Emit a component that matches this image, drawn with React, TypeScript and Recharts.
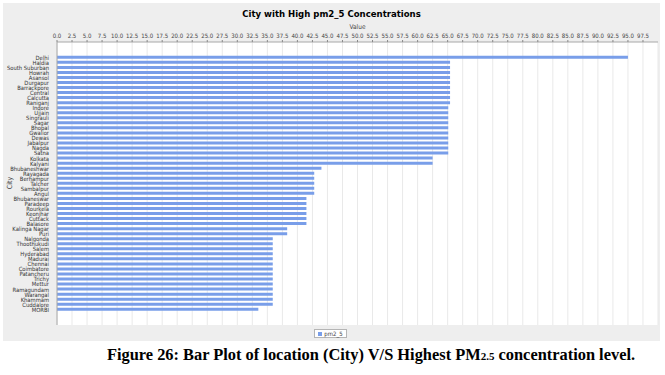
import { BarChart, Bar, XAxis, YAxis, CartesianGrid, Legend } from "recharts";

const cities = [
  "Delhi", "Haldia", "South Suburban", "Howrah", "Asansol", "Durgapur", "Barrackpore",
  "Central", "Calcutta", "Raniganj", "Indore", "Ujjain", "Singrauli", "Sagar", "Bhopal",
  "Gwalior", "Dewas", "Jabalpur", "Nagda", "Satna", "Kolkata", "Kalyani", "Bhubaneshwar",
  "Rayagada", "Berhampur", "Talcher", "Sambalpur", "Angul", "Bhubaneswar", "Paradeep",
  "Rourkela", "Keonjhar", "Cuttack", "Balasore", "Kalinga Nagar", "Puri", "Nalgonda",
  "Thoothukudi", "Salem", "Hyderabad", "Madurai", "Chennai", "Coimbatore", "Patancheru",
  "Trichy", "Mettur", "Ramagundam", "Warangal", "Khammam", "Cuddalore", "MORBI",
];

const pm25 = [
  95.0,
  65.4, 65.4, 65.4, 65.4, 65.4, 65.4, 65.4, 65.4, 65.4,
  65.1, 65.1, 65.1, 65.1, 65.1, 65.1, 65.1, 65.1, 65.1, 65.1,
  62.5, 62.5,
  44.0,
  42.8, 42.8, 42.8, 42.8, 42.8,
  41.5, 41.5, 41.5, 41.5, 41.5, 41.5,
  38.3, 38.3,
  35.9, 35.9, 35.9, 35.9, 35.9, 35.9, 35.9, 35.9, 35.9, 35.9, 35.9, 35.9, 35.9, 35.9,
  33.5,
];

const valueTicks = [
  0, 2.5, 5, 7.5, 10, 12.5, 15, 17.5, 20, 22.5, 25, 27.5, 30, 32.5, 35, 37.5, 40, 42.5,
  45, 47.5, 50, 52.5, 55, 57.5, 60, 62.5, 65, 67.5, 70, 72.5, 75, 77.5, 80, 82.5, 85,
  87.5, 90, 92.5, 95, 97.5,
];

const data = cities.map((city, i) => ({ city, pm2_5: pm25[i] }));

const BAR = "#799ee9";
const FRAME = "#a8a8a8";
const SMALL = "'DejaVu Sans Condensed', 'Liberation Sans', sans-serif";

// plain svg text, so recharts doesn't wrap long names like "South Suburban"
function CityTick(props: any) {
  const { x, y, payload } = props;
  return (
    <text x={x} y={y} dy={2.2} textAnchor="end" fontSize={5.8} fontFamily={SMALL} fill="#333">
      {payload.value}
    </text>
  );
}

function LegendBox() {
  return (
    <div style={{ display: "flex", justifyContent: "center", paddingTop: 4 }}>
      <div
        style={{
          display: "flex",
          alignItems: "center",
          gap: 2,
          border: "1px solid #b5b5b5",
          background: "#ffffff",
          padding: "0 3px",
          height: 7,
          fontFamily: SMALL,
          fontSize: 6,
          lineHeight: "7px",
          color: "#444",
        }}
      >
        <span style={{ width: 4, height: 4, background: BAR, display: "inline-block" }} />
        pm2_5
      </div>
    </div>
  );
}

export default function App() {
  return (
    <div style={{ position: "absolute", left: 0, top: 0, width: 665, height: 375, background: "#fff" }}>
      <div style={{ position: "absolute", left: 3, top: 3, width: 657, height: 338, background: "#eeeeee" }}>
        <div
          style={{
            position: "absolute",
            top: 5,
            width: "100%",
            textAlign: "center",
            fontFamily: SMALL,
            fontWeight: "bold",
            fontSize: 9.5,
            lineHeight: "12px",
            color: "#000",
          }}
        >
          City with High pm2_5 Concentrations
        </div>
        <div
          style={{
            position: "absolute",
            left: 7,
            top: 180,
            transform: "translate(-50%, -50%) rotate(-90deg)",
            fontFamily: SMALL,
            fontSize: 7,
            color: "#444",
          }}
        >
          City
        </div>
        <BarChart
          width={657}
          height={338}
          data={data}
          layout="vertical"
          margin={{ top: 19, right: 2, bottom: 3, left: 0 }}
          barCategoryGap="16%"
        >
          <CartesianGrid horizontal={false} stroke="#e9e9e9" fill="#ffffff" />
          <XAxis
            type="number"
            orientation="top"
            domain={[0, 100]}
            ticks={valueTicks}
            tickFormatter={(v: number) => v.toFixed(1)}
            interval={0}
            height={20}
            tickSize={2}
            tickMargin={2}
            tick={{ fontSize: 6, fontFamily: SMALL, fill: "#444" }}
            axisLine={{ stroke: FRAME }}
            tickLine={{ stroke: "#888" }}
            label={{ value: "Value", position: "insideTop", offset: 2, fontSize: 6.5, fontFamily: SMALL, fill: "#444" }}
          />
          <XAxis
            xAxisId="frame"
            type="number"
            orientation="bottom"
            domain={[0, 100]}
            height={0}
            tick={false}
            tickLine={false}
            axisLine={{ stroke: FRAME }}
          />
          <YAxis
            type="category"
            dataKey="city"
            width={54}
            interval={0}
            padding={{ top: 13, bottom: 13 }}
            tickLine={false}
            tickMargin={2}
            tick={<CityTick />}
            axisLine={{ stroke: FRAME }}
          />
          <YAxis
            yAxisId="frame"
            type="category"
            dataKey="city"
            orientation="right"
            width={0}
            tick={false}
            tickLine={false}
            axisLine={{ stroke: FRAME }}
          />
          <Legend verticalAlign="bottom" content={() => <LegendBox />} />
          <Bar dataKey="pm2_5" fill={BAR} isAnimationActive={false} />
        </BarChart>
      </div>
      <div
        style={{
          position: "absolute",
          left: 0,
          top: 345,
          width: 742,
          textAlign: "center",
          fontFamily: "'Liberation Serif', serif",
          fontWeight: "bold",
          fontSize: 16.4,
          lineHeight: "20px",
          color: "#000",
        }}
      >
        Figure 26: Bar Plot of location (City) V/S Highest PM<span style={{ fontSize: 11 }}>2.5</span> concentration level.
      </div>
    </div>
  );
}
